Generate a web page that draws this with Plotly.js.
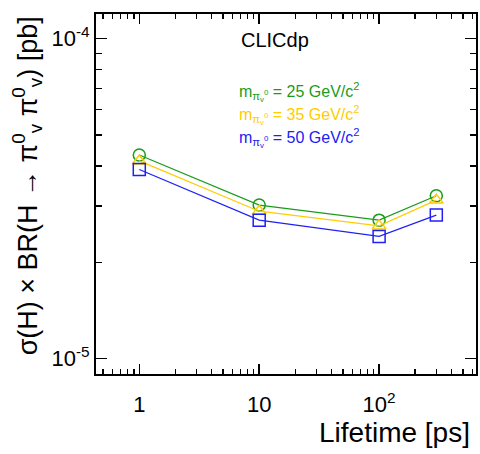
<!DOCTYPE html>
<html>
<head>
<meta charset="utf-8">
<script src="https://cdn.plot.ly/plotly-3.0.1.min.js"></script>
<style>html,body{margin:0;padding:0;background:#fff;}#chart{width:480px;height:454px;}</style>
</head>
<body>
<div id="chart"></div>
<script>
// Lifetime values [ps]
var lifetime = [1, 10, 100, 300];
// sigma x BR [pb] for each pi0_v mass
var xs25 = [4.33e-5, 3.02e-5, 2.71e-5, 3.23e-5];
var xs35 = [4.15e-5, 2.89e-5, 2.60e-5, 3.13e-5];
var xs50 = [3.90e-5, 2.71e-5, 2.41e-5, 2.81e-5];
var seriesNames = ['m = 25 GeV/c2', 'm = 35 GeV/c2', 'm = 50 GeV/c2'];
var legendTexts = [
  'm<sub>π<sub>v</sub><sup>0</sup></sub> = 25 GeV/c<sup>2</sup>',
  'm<sub>π<sub>v</sub><sup>0</sup></sub> = 35 GeV/c<sup>2</sup>',
  'm<sub>π<sub>v</sub><sup>0</sup></sub> = 50 GeV/c<sup>2</sup>'
];
var xTickVals = [1, 10, 100];
var xTickText = ['1', '10', '10<sup>2</sup>'];
var yTickVals = [1e-5, 1e-4];
var yTickText = ['10<sup>-5</sup>', '10<sup>-4</sup>'];

var colors = ['#1a9c1a', '#ffcc00', '#2020f5'];
var symbols = ['circle-open', 'triangle-up-open', 'square-open'];
var ys = [xs25, xs35, xs50];

var traces = ys.map(function (y, i) {
  return {
    x: lifetime, y: y, type: 'scatter', mode: 'lines+markers',
    name: seriesNames[i],
    line: {color: colors[i], width: 1.2},
    marker: {symbol: symbols[i], size: 12, color: colors[i], line: {color: colors[i], width: 1.5}},
    showlegend: false
  };
});
var font = 'Liberation Sans, Arial, sans-serif';
var axisCommon = {
  showline: true, linecolor: '#000', linewidth: 2, mirror: 'ticks',
  ticks: 'inside', tickcolor: '#000', tickwidth: 1.5,
  showgrid: false, zeroline: false, tickmode: 'array',
  tickfont: {family: font, size: 22, color: '#000'}
};

var annotations = [
  {text: 'CLICdp', xref: 'paper', yref: 'paper', x: 0.3766, y: 0.9266, xanchor: 'left', yanchor: 'middle',
   showarrow: false, font: {family: font, size: 20, color: '#000'}},
  {text: 'σ(H) × BR(H → π<sup>0</sup><sub>v</sub> π<sup>0</sup><sub>v</sub>) [pb]', xref: 'paper', yref: 'paper',
   x: -0.182, y: 1.0, xanchor: 'center', yanchor: 'top', textangle: -90,
   showarrow: false, font: {family: font, size: 27, color: '#000'}},
  {text: 'Lifetime [ps]', xref: 'paper', yref: 'paper', x: 0.9895, y: -0.162, xanchor: 'right', yanchor: 'middle',
   showarrow: false, font: {family: font, size: 28, color: '#000'}}
];
var legY = [0.7825, 0.7188, 0.655];
legendTexts.forEach(function (t, i) {
  annotations.push({text: t, xref: 'paper', yref: 'paper', x: 0.372, y: legY[i], xanchor: 'left', yanchor: 'middle',
    showarrow: false, font: {family: font, size: 16, color: colors[i]}});
});

var layout = {
  width: 480, height: 454,
  margin: {l: 96, r: 4, t: 13.5, b: 79.5},
  paper_bgcolor: '#fff', plot_bgcolor: '#fff',
  showlegend: false,
  xaxis: Object.assign({}, axisCommon, {
    type: 'log', range: [-0.361, 2.808], ticklen: 10,
    tickvals: xTickVals, ticktext: xTickText, ticklabelstandoff: 10,
    minor: {dtick: 'D1', ticks: 'inside', ticklen: 5, tickcolor: '#000', tickwidth: 1.5, showgrid: false}
  }),
  yaxis: Object.assign({}, axisCommon, {
    type: 'log', range: [-5.048, -3.9227], ticklen: 11,
    tickvals: yTickVals, ticktext: yTickText,
    minor: {dtick: 'D1', ticks: 'inside', ticklen: 6, tickcolor: '#000', tickwidth: 1.5, showgrid: false}
  }),
  annotations: annotations
};

Plotly.newPlot('chart', traces, layout, {displayModeBar: false, staticPlot: true});
</script>
</body>
</html>
